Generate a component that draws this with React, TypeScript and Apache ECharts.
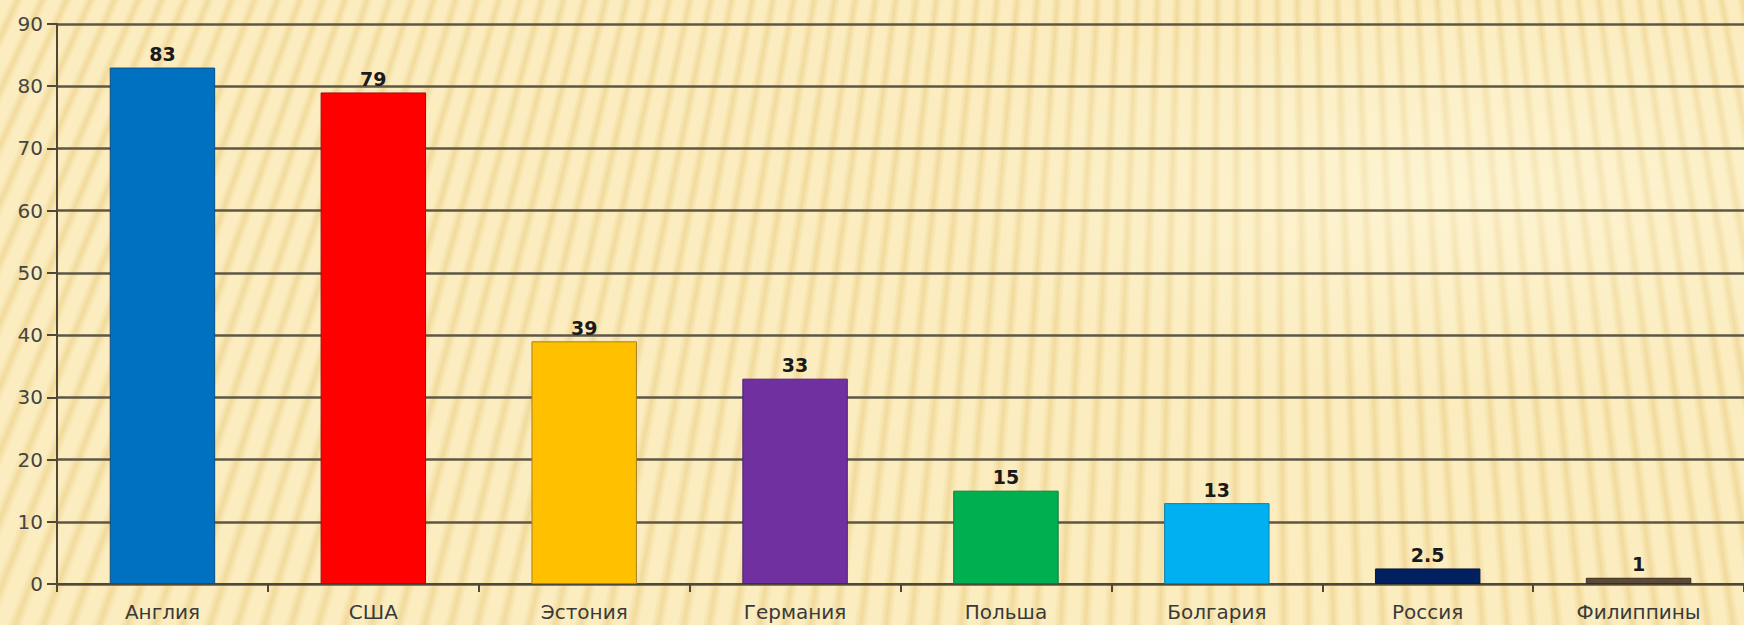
import React, { useEffect, useRef } from "react";
import * as echarts from "echarts";

const categories = ["Англия", "США", "Эстония", "Германия", "Польша", "Болгария", "Россия", "Филиппины"];
const values = [83, 79, 39, 33, 15, 13, 2.5, 1];
const barColors = ["#0070c0", "#ff0000", "#ffc000", "#7030a0", "#00b050", "#00b0f0", "#002060", "#5c4a36"];
const borderColors = ["#0a4f86", "#a01010", "#a88020", "#4a2070", "#107a40", "#1080a8", "#0a1540", "#3a2e22"];

const FONT = "DejaVu Sans, Liberation Sans, Arial, sans-serif";

export default function App() {
  const ref = useRef<HTMLDivElement>(null);
  useEffect(() => {
    if (!ref.current) return;
    const chart = echarts.init(ref.current, undefined, { renderer: "svg" });
    chart.setOption({
      animation: false,
      backgroundColor: "transparent",
      grid: { left: 57, right: 0, top: 24, bottom: 41, containLabel: false },
      xAxis: {
        type: "category",
        data: categories,
        axisLine: { lineStyle: { color: "#4f4836", width: 2 } },
        axisTick: { show: true, length: 8, lineStyle: { color: "#4f4836", width: 2 } },
        axisLabel: { color: "#3a3a3a", fontSize: 20, fontFamily: FONT, margin: 18 },
      },
      yAxis: {
        type: "value",
        min: 0,
        max: 90,
        interval: 10,
        axisLine: { show: true, lineStyle: { color: "#4f4836", width: 2 } },
        axisTick: { show: true, length: 10, lineStyle: { color: "#4f4836", width: 2 } },
        axisLabel: { color: "#444444", fontSize: 20, fontFamily: FONT, margin: 14 },
        splitLine: { lineStyle: { color: "#5e5744", width: 2.5 } },
      },
      series: [
        {
          type: "bar",
          barWidth: "50%",
          data: values.map((v, i) => ({
            value: v,
            itemStyle: { color: barColors[i], borderColor: borderColors[i], borderWidth: 1 },
          })),
          label: {
            show: true,
            position: "top",
            distance: 4,
            color: "#1a1a1a",
            fontSize: 19,
            fontWeight: "bold",
            fontFamily: FONT,
          },
        },
      ],
    });
    return () => chart.dispose();
  }, []);
  return (
    <div
      ref={ref}
      style={{
        position: "absolute",
        left: 0,
        top: 0,
        width: 1744,
        height: 625,
        backgroundColor: "#f9e7b0",
        backgroundImage:
          "radial-gradient(ellipse 520px 200px at 1450px 190px, rgba(255,252,232,0.45), rgba(255,252,232,0) 100%), repeating-conic-gradient(at 1250px -2600px, #fbedc0 0deg, #fbedc0 0.2deg, #f2da9c 0.32deg, #fbedc0 0.44deg)",
      }}
    />
  );
}
